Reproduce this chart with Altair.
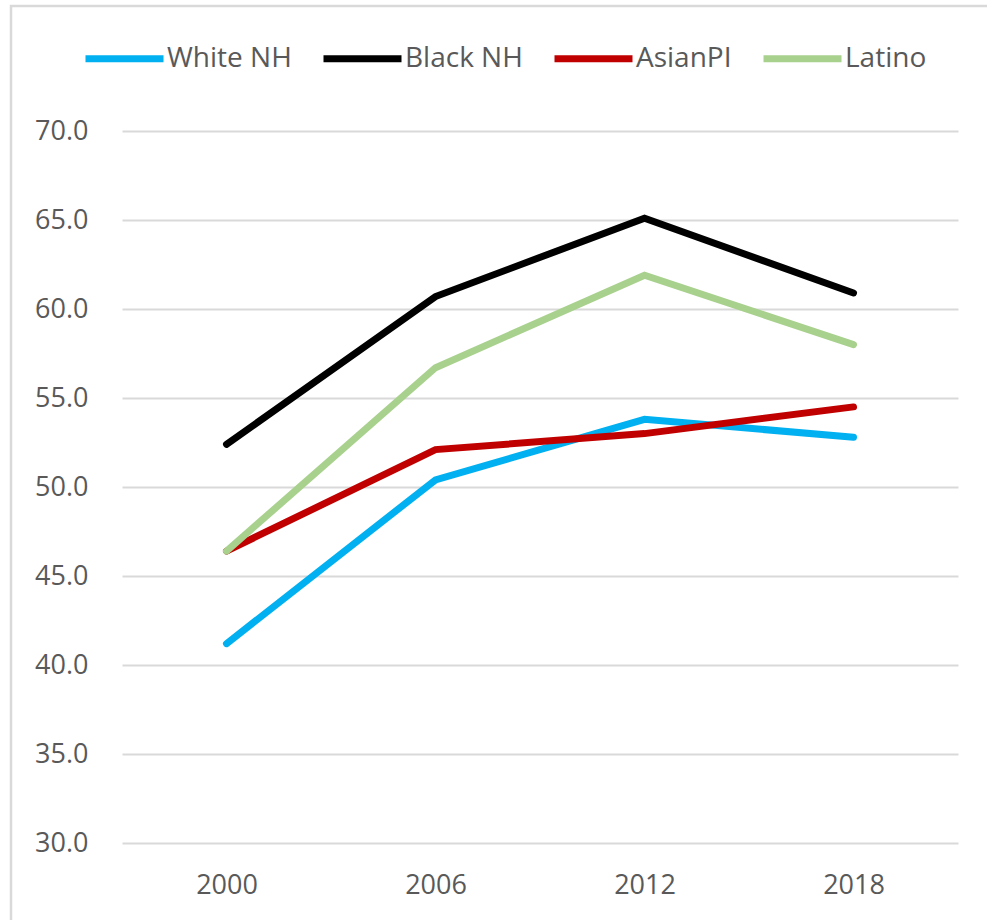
import altair as alt
import pandas as pd

# Series values by year
years = ["2000", "2006", "2012", "2018"]
series = ["White NH", "Black NH", "AsianPI", "Latino"]
white_nh = [41.2, 50.4, 53.8, 52.8]
black_nh = [52.4, 60.7, 65.1, 60.9]
asian_pi = [46.4, 52.1, 53.0, 54.5]
latino = [46.4, 56.7, 61.9, 58.0]
colors = ["#00B0F0", "#000000", "#C00000", "#A9D18E"]
y_ticks = [30, 35, 40, 45, 50, 55, 60, 65, 70]

rows = []
for name, vals in zip(series, [white_nh, black_nh, asian_pi, latino]):
    for yr, v in zip(years, vals):
        rows.append({"year": yr, "series": name, "value": v})
df = pd.DataFrame(rows)

FONT = "Open Sans"
TEXT = "#595959"
GRID = "#D9D9D9"

lines = alt.Chart(df).mark_line(strokeWidth=7, strokeCap="round", strokeJoin="miter").encode(
    x=alt.X("year:O", sort=years, title=None,
            scale=alt.Scale(padding=0.5),
            axis=alt.Axis(labelAngle=0, domain=False, ticks=False, grid=False,
                          labelPadding=29, labelFont=FONT, labelFontSize=27,
                          labelColor=TEXT)),
    y=alt.Y("value:Q", title=None,
            scale=alt.Scale(domain=[30, 70], nice=False, zero=False),
            axis=alt.Axis(values=y_ticks, format=".1f", domain=False, ticks=False,
                          grid=True, gridColor=GRID, gridWidth=2,
                          labelPadding=34, labelFont=FONT, labelFontSize=27,
                          labelColor=TEXT)),
    color=alt.Color("series:N", sort=series,
                    scale=alt.Scale(domain=series, range=colors),
                    legend=alt.Legend(title=None, orient="none", direction="horizontal",
                                      legendX=-40, legendY=-115,
                                      symbolType="stroke", symbolSize=6084,
                                      symbolStrokeWidth=7, labelOffset=0,
                                      columnPadding=17, labelFont=FONT,
                                      labelFontSize=28, labelColor=TEXT)),
)

# Light outer frame around the chart
frame = alt.Chart(pd.DataFrame({"k": [0]})).mark_rect(
    fill=None, stroke=GRID, strokeWidth=2.5, clip=False
).encode(
    x=alt.value(-111), x2=alt.value(1100),
    y=alt.value(-125), y2=alt.value(1100),
)

chart = alt.layer(frame, lines).properties(
    width=836, height=712,
    background="white",
    autosize=alt.AutoSizeParams(type="none"),
    padding={"left": 122, "top": 131, "right": 29, "bottom": 77},
).configure_view(strokeWidth=0, stroke="transparent")

chart.save("out.html", embed_options={"renderer": "svg", "actions": False})
